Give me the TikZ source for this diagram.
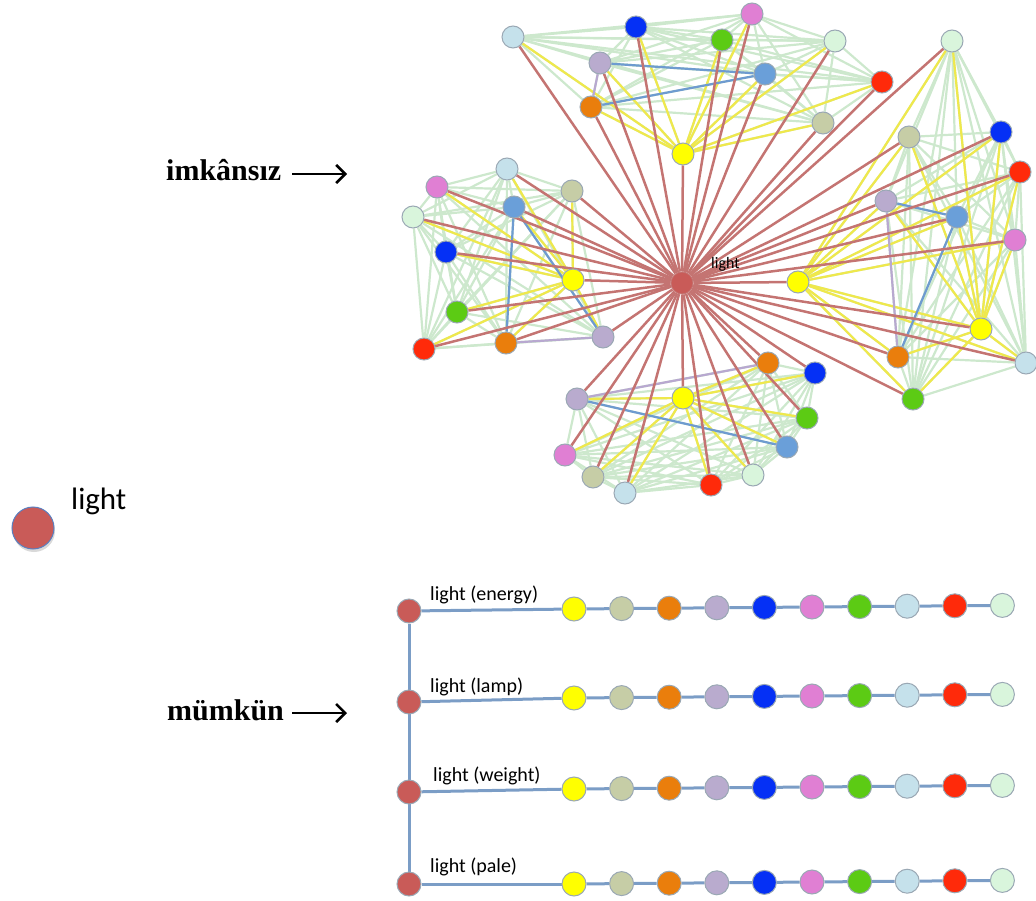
\documentclass[tikz,border=0pt]{standalone}
\usepackage{fontspec}
\setmainfont{Liberation Serif}
\newfontfamily\calfont{Carlito}
\usetikzlibrary{arrows.meta,shadows}
\pgfdeclarelayer{bgA}
\pgfdeclarelayer{bgB}
\pgfdeclarelayer{bgC}
\pgfsetlayers{bgA,bgB,bgC,main}
\definecolor{cYel}{HTML}{FFFF00}
\definecolor{cSag}{HTML}{C6CDA6}
\definecolor{cOra}{HTML}{EA7E0C}
\definecolor{cLav}{HTML}{B9ABCE}
\definecolor{cBlu}{HTML}{0530F5}
\definecolor{cPin}{HTML}{E07FD3}
\definecolor{cGre}{HTML}{5CCB14}
\definecolor{cLbl}{HTML}{C5E1EB}
\definecolor{cRed}{HTML}{FF2A0A}
\definecolor{cMin}{HTML}{D9F5DC}
\definecolor{cStb}{HTML}{6A9FD9}
\definecolor{cCen}{HTML}{C95B58}
\definecolor{eRed}{HTML}{C47472}
\definecolor{eGrn}{HTML}{CDE8CD}
\definecolor{eYel}{HTML}{EFE84C}
\definecolor{eBlu}{HTML}{6E9BD0}
\definecolor{eLav}{HTML}{B8A8D0}
\definecolor{rowLine}{HTML}{7B9DC6}
\definecolor{dotBorder}{HTML}{9AA8B4}
\definecolor{legBorder}{HTML}{5A7FC0}
\begin{document}
\begin{tikzpicture}[x=1pt,y=-1pt,
  dot/.style={circle,draw=dotBorder,line width=1,minimum size=22,inner sep=0},
  rdot/.style={circle,draw=dotBorder,line width=1,minimum size=24,inner sep=0},
  egrn/.style={draw=eGrn,line width=2.2},
  eyel/.style={draw=eYel,line width=2.2},
  eblu/.style={draw=eBlu,line width=2.2},
  elav/.style={draw=eLav,line width=2.2},
  ered/.style={draw=eRed,line width=2.5},
  rowline/.style={draw=rowLine,line width=3},
  bigtxt/.style={font=\bfseries\fontsize{30}{30}\selectfont,anchor=base west,inner sep=0},
  rowtxt/.style={font=\calfont\fontsize{20}{20}\selectfont,anchor=base west,inner sep=0},
  pointer/.style={line width=2.6,-{Straight Barb[length=9,width=18,line width=2.6]}}
]
\useasboundingbox (0,0) rectangle (1036,901);

% center node
\node[dot,fill=cCen,draw=eRed] (C) at (682,283) {};
\node[font=\calfont\fontsize{16}{16}\selectfont,anchor=base west,inner sep=0] (Clab) at (711,269) {light};

% top cluster
\foreach \n/\x/\y/\c in {T1/683/154/cYel,T2/765/74/cStb,T3/600/63/cLav,T4/591/107/cOra,T5/823/123/cSag,T6/636/27/cBlu,T7/752/14/cPin,T8/722/40/cGre,T9/513/37/cLbl,T10/882/82/cRed,T11/835/41/cMin}
  \node[dot,fill=\c] (\n) at (\x,\y) {};
% left cluster
\foreach \n/\x/\y/\c in {L1/573/280/cYel,L2/514/207/cStb,L3/603/337/cLav,L4/506/343/cOra,L5/572/191/cSag,L6/446/252/cBlu,L7/437/187/cPin,L8/457/312/cGre,L9/507/169/cLbl,L10/424/349/cRed,L11/413/217/cMin}
  \node[dot,fill=\c] (\n) at (\x,\y) {};
% right cluster
\foreach \n/\x/\y/\c in {R1/798/282/cYel,R2/957/217/cStb,R3/886/201/cLav,R4/898/357/cOra,R5/909/137/cSag,R6/1001/132/cBlu,R7/1015/240/cPin,R8/913/399/cGre,R9/1026/363/cLbl,R10/1020/172/cRed,R11/952/41/cMin,R12/981/329/cYel}
  \node[dot,fill=\c] (\n) at (\x,\y) {};
% bottom cluster
\foreach \n/\x/\y/\c in {B1/683/398/cYel,B2/787/447/cStb,B3/577/399/cLav,B4/768/363/cOra,B5/593/477/cSag,B6/815/373/cBlu,B7/565/455/cPin,B8/807/418/cGre,B9/625/493/cLbl,B10/711/485/cRed,B11/753/475/cMin}
  \node[dot,fill=\c] (\n) at (\x,\y) {};

\begin{pgfonlayer}{bgA}
  \foreach \p in {T,L,B}{
    \foreach \i in {1,...,11}{
      \foreach \j in {1,...,11}{
        \ifnum\j>\i \draw[egrn] (\p\i) -- (\p\j); \fi
      }}}
  \foreach \i in {1,...,12}{
    \foreach \j in {1,...,12}{
      \ifnum\j>\i \draw[egrn] (R\i) -- (R\j); \fi
    }}
\end{pgfonlayer}

\begin{pgfonlayer}{bgB}
  \foreach \p in {T,L,B}{
    \foreach \j in {2,...,11}{\draw[eyel] (\p1) -- (\p\j);}}
  \foreach \j in {2,...,12}{\draw[eyel] (R1) -- (R\j);}
  \foreach \j in {2,...,11}{\draw[eyel] (R12) -- (R\j);}
  \draw[eblu] (T2) -- (T3);
  \draw[eblu] (T2) -- (T4);
  \draw[eblu] (L2) -- (L4);
  \draw[eblu] (L2) -- (L3);
  \draw[eblu] (R2) -- (R3);
  \draw[eblu] (R2) -- (R4);
  \draw[eblu] (B2) -- (B3);
  \draw[elav] (R3) -- (R4);
  \draw[elav] (B3) -- (B4);
  \draw[elav] (L3) -- (L4);
  \draw[elav] (T3) -- (T4);
\end{pgfonlayer}

\begin{pgfonlayer}{bgC}
  \foreach \p in {T,L,B}{
    \foreach \j in {1,...,11}{\draw[ered] (C) -- (\p\j);}}
  \foreach \j in {1,...,12}{\draw[ered] (C) -- (R\j);}
\end{pgfonlayer}

% labels with arrows
\node[bigtxt] (imk) at (166,181) {imkânsız};
\coordinate (imkA) at (292,174);
\coordinate (imkB) at (347,174);
\draw[pointer] (imkA) -- (imkB);
\node[bigtxt] (mum) at (167,720) {mümkün};
\coordinate (mumA) at (292,713);
\coordinate (mumB) at (347,713);
\draw[pointer] (mumA) -- (mumB);

% legend
\node[circle,fill=cCen,draw=legBorder,line width=1,minimum size=42,inner sep=0,
      drop shadow={opacity=0.3,shadow xshift=1pt,shadow yshift=-3pt}] (leg) at (33,528) {};
\node[font=\calfont\fontsize{31}{31}\selectfont,anchor=base west,inner sep=0] (legl) at (71,509) {light};

% rows
\foreach \k/\hy/\ry/\lx/\ly/\txt in {1/611/609/430/600/{light (energy)},2/702/698/430/692/{light (lamp)},3/792/789/433/781/{light (weight)},4/884/884/430/872/{light (pale)}}{
  \node[rdot,fill=cCen] (h\k) at (409,\hy) {};
  \node[rowtxt] (lab\k) at (\lx,\ly) {\txt};
  \foreach \i/\c in {1/cYel,2/cSag,3/cOra,4/cLav,5/cBlu,6/cPin,7/cGre,8/cLbl,9/cRed,10/cMin}{
    \node[rdot,fill=\c] (w\k-\i) at ({574+47.6*(\i-1)},{\ry-0.4*(\i-1)}) {};
  }
  \begin{pgfonlayer}{bgA}
    \draw[rowline] (h\k) -- (w\k-1);
    \foreach \i [evaluate=\i as \j using int(\i+1)] in {1,...,9}{
      \draw[rowline] (w\k-\i) -- (w\k-\j);
    }
  \end{pgfonlayer}
}
\begin{pgfonlayer}{bgA}
  \draw[rowline] (h1) -- (h4);
\end{pgfonlayer}
\end{tikzpicture}
\end{document}
